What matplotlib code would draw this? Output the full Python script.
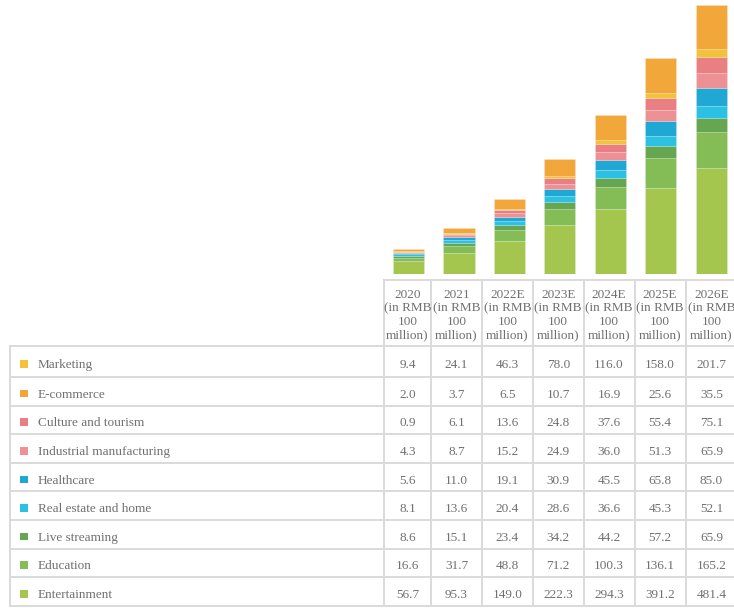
import matplotlib.pyplot as plt
import numpy as np

# data (RMB 100 million)
years = ["2020", "2021", "2022E", "2023E", "2024E", "2025E", "2026E"]
categories = ["Marketing", "E-commerce", "Culture and tourism", "Industrial manufacturing",
              "Healthcare", "Real estate and home", "Live streaming", "Education", "Entertainment"]
marketing = [9.4, 24.1, 46.3, 78.0, 116.0, 158.0, 201.7]
ecommerce = [2.0, 3.7, 6.5, 10.7, 16.9, 25.6, 35.5]
culture = [0.9, 6.1, 13.6, 24.8, 37.6, 55.4, 75.1]
industrial = [4.3, 8.7, 15.2, 24.9, 36.0, 51.3, 65.9]
healthcare = [5.6, 11.0, 19.1, 30.9, 45.5, 65.8, 85.0]
realestate = [8.1, 13.6, 20.4, 28.6, 36.6, 45.3, 52.1]
streaming = [8.6, 15.1, 23.4, 34.2, 44.2, 57.2, 65.9]
education = [16.6, 31.7, 48.8, 71.2, 100.3, 136.1, 165.2]
entertainment = [56.7, 95.3, 149.0, 222.3, 294.3, 391.2, 481.4]

rows = [marketing, ecommerce, culture, industrial, healthcare,
        realestate, streaming, education, entertainment]

bar_colors = ["#F2A73A", "#F3C23B", "#E97F83", "#EE9195", "#20A8D4",
              "#2BC1E2", "#67A650", "#84BD55", "#A4C64E"]
legend_colors = ["#F5C33A", "#F2A63A", "#E97F83", "#EE9195", "#20A8D4",
                 "#2BC1E2", "#67A650", "#84BD55", "#A4C64E"]

W, H = 734, 608
fig = plt.figure(figsize=(W / 100, H / 100), dpi=100)
plt.rcParams['font.family'] = ['Liberation Serif', 'DejaVu Serif']

# stacked bars
pitch = 50.45
bx0 = 408.5 - pitch / 2
base_y, top_y = 273.7, 5
axb = fig.add_axes([bx0 / W, (H - base_y) / H, 7 * pitch / W, (base_y - top_y) / H])
x = np.arange(len(years))
bottom = np.zeros(len(years))
for vals, col in zip(rows[::-1], bar_colors[::-1]):
    axb.bar(x, vals, 0.62, bottom=bottom, color=col,
            edgecolor=(1, 1, 1, 0.25), linewidth=0.5)
    bottom += np.array(vals)
axb.set_xlim(-0.5, len(years) - 0.5)
axb.set_ylim(0, bottom.max())
axb.axis("off")

# table
ax = fig.add_axes([0, 0, 1, 1])
ax.set_xlim(0, W)
ax.set_ylim(H, 0)
ax.axis("off")

gc = "#DADADA"
lw = 1.4
tc = "#707070"
fs = 9.5
col_edges = [384, 431, 482, 533, 583.5, 634.5, 685.8, 737]
head_top, head_bot = 279.5, 346
row_edges = [head_bot, 377] + [377 + 28.6 * (i + 1) for i in range(len(categories) - 1)]
left = 10

# header cells
ax.plot([col_edges[0], col_edges[-1]], [head_top, head_top], color=gc, lw=lw)
for xe in col_edges:
    ax.plot([xe, xe], [head_top, row_edges[-1]], color=gc, lw=lw)
for i, yr in enumerate(years):
    cx = (col_edges[i] + col_edges[i + 1]) / 2
    ax.text(cx, (head_top + head_bot) / 2 + 2.5, yr + "\n(in RMB\n100\nmillion)",
            ha="center", va="center", fontsize=fs, color=tc, linespacing=1.17)

# body rows
for ye in row_edges:
    ax.plot([left, col_edges[-1]], [ye, ye], color=gc, lw=lw)
ax.plot([left, left], [head_bot, row_edges[-1]], color=gc, lw=lw)
for r, (name, vals) in enumerate(zip(categories, rows)):
    cy = (row_edges[r] + row_edges[r + 1]) / 2 + 3.5
    ax.add_patch(plt.Rectangle((20, cy - 5), 7.5, 7.5, color=legend_colors[r], lw=0))
    ax.text(38, cy, name, ha="left", va="center", fontsize=fs, color=tc)
    for i, v in enumerate(vals):
        cx = (col_edges[i] + col_edges[i + 1]) / 2
        ax.text(cx, cy, f"{v:.1f}", ha="center", va="center", fontsize=fs, color=tc)

fig.savefig("out.png", dpi=100)
